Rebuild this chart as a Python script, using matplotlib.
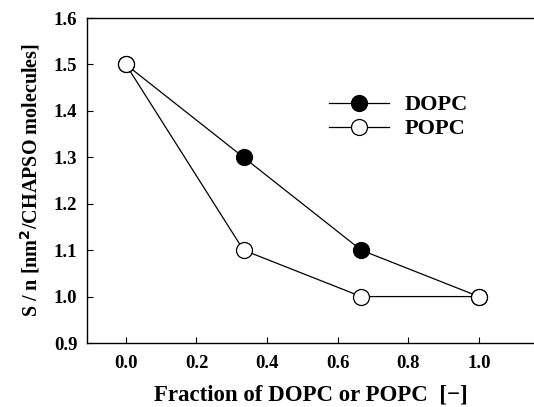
import matplotlib
matplotlib.use("Agg")
import matplotlib.pyplot as plt

fraction = [0.0, 1/3, 2/3, 1.0]
dopc = [1.5, 1.3, 1.1, 1.0]
popc = [1.5, 1.1, 1.0, 1.0]
xticks = [0.0, 0.2, 0.4, 0.6, 0.8, 1.0]
yticks = [0.9, 1.0, 1.1, 1.2, 1.3, 1.4, 1.5, 1.6]

plt.rcParams['font.family'] = ['Liberation Serif', 'DejaVu Serif']
plt.rcParams['font.weight'] = 'bold'

fig = plt.figure(figsize=(5.34, 4.07), dpi=100)
ax = fig.add_axes([87/534, 1-343/407, 1-87/534, (343-18)/407])

ax.plot(fraction, dopc, '-o', color='black', lw=0.9, ms=11.5,
        mfc='black', mec='black', mew=0.9, label='DOPC', zorder=3)
ax.plot(fraction, popc, '-o', color='black', lw=0.9, ms=11.5,
        mfc='white', mec='black', mew=0.9, label='POPC', zorder=4)

ax.set_xlim(-0.11, 1.156)
ax.set_ylim(0.9, 1.6)
ax.set_xticks(xticks)
ax.set_yticks(yticks)
ax.set_xticklabels([f"{v:.1f}" for v in xticks], fontsize=13.5, fontweight='bold')
ax.set_yticklabels([f"{v:.1f}" for v in yticks], fontsize=13.5, fontweight='bold')
ax.tick_params(direction='in', length=4, width=0.8)
ax.tick_params(axis='y', pad=7)
ax.tick_params(axis='x', pad=9)
ax.spines['right'].set_visible(False)
for s in ['left', 'top', 'bottom']:
    ax.spines[s].set_linewidth(1.0)

ax.set_xlabel("Fraction of DOPC or POPC  [\u2212]", fontsize=16.5, fontweight='bold', labelpad=9)
ax.set_ylabel("S / n [nm$^\\mathbf{2}$/CHAPSO molecules]", fontsize=14.5, fontweight='bold', labelpad=8)

leg = ax.legend(loc='upper left', bbox_to_anchor=((320-87)/447, (343-86)/325),
                frameon=False, fontsize=16, handlelength=2.7, handletextpad=0.7,
                labelspacing=0.15, borderaxespad=0)
for t in leg.get_texts():
    t.set_fontweight('bold')

fig.savefig("out.png", dpi=100)
